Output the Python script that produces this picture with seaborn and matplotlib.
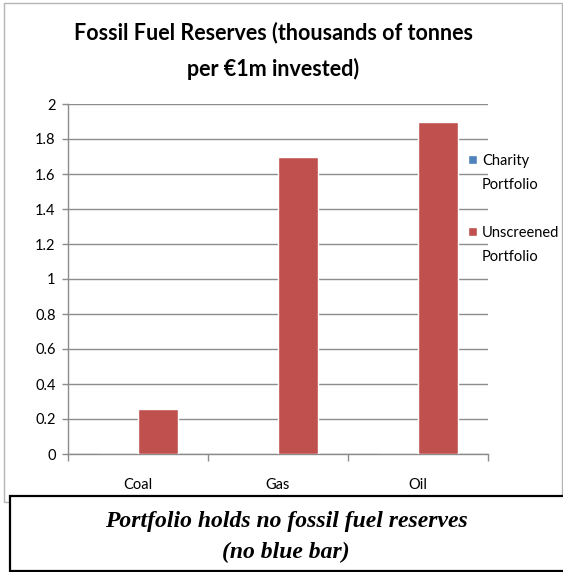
import matplotlib
matplotlib.use("Agg")
import matplotlib.pyplot as plt
import seaborn as sns
import pandas as pd
from matplotlib.patches import Rectangle, Patch

# ---- data ----
categories = ["Coal", "Gas", "Oil"]
series = ["Charity Portfolio", "Unscreened Portfolio"]
charity_values = [0.0, 0.0, 0.0]
unscreened_values = [0.26, 1.7, 1.9]
y_ticks = [0, 0.2, 0.4, 0.6, 0.8, 1, 1.2, 1.4, 1.6, 1.8, 2]
y_tick_labels = ["0", "0.2", "0.4", "0.6", "0.8", "1", "1.2", "1.4", "1.6", "1.8", "2"]
title = "Fossil Fuel Reserves (thousands of tonnes\nper \u20ac1m invested)"
note = "Portfolio holds no fossil fuel reserves\n(no blue bar)"
colors = ["#4F81BD", "#C0504D"]

df = pd.DataFrame({
    "Fuel": categories * 2,
    "Portfolio": [series[0]] * 3 + [series[1]] * 3,
    "Value": charity_values + unscreened_values,
})

sns.set_style("white")
sans = ["Lato", "DejaVu Sans"]
plt.rcParams["font.family"] = sans
for k in ["text.color", "axes.labelcolor", "xtick.color", "ytick.color"]:
    plt.rcParams[k] = "black"

W, H = 563, 572
fig = plt.figure(figsize=(W / 100, H / 100), dpi=100)

ax = fig.add_axes([68 / W, 1 - 454 / H, (488 - 68) / W, (454 - 104) / H])
sns.barplot(data=df, x="Fuel", y="Value", hue="Portfolio", palette=colors,
            width=0.57, saturation=1, errorbar=None, legend=False, ax=ax, zorder=3)

ax.set_xlim(-0.5, 2.5)
ax.set_ylim(0, 2)
ax.set_yticks(y_ticks)
ax.set_yticklabels(y_tick_labels)
ax.set_xlabel("")
ax.set_ylabel("")
ax.yaxis.grid(True, color="#8c8c8c", linewidth=1.0, zorder=0)
ax.set_axisbelow(True)
for s in ["top", "right"]:
    ax.spines[s].set_visible(False)
for s in ["left", "bottom"]:
    ax.spines[s].set_color("#8c8c8c")
    ax.spines[s].set_linewidth(1.0)
ax.tick_params(axis="y", length=4, width=1, color="#8c8c8c", labelcolor="black",
               labelsize=10.5, pad=5, left=True)
ax.tick_params(axis="x", length=0, labelsize=10.5, labelcolor="black", pad=17)
ax.set_xticks([-0.5, 0.5, 1.5, 2.5], minor=True)
ax.tick_params(axis="x", which="minor", length=5, width=1, color="#8c8c8c", bottom=True)

# legend
handles = [Patch(facecolor=colors[0]), Patch(alpha=0), Patch(alpha=0),
           Patch(facecolor=colors[1]), Patch(alpha=0)]
labels = ["Charity", "Portfolio", " ", "Unscreened", "Portfolio"]
leg = ax.legend(handles, labels, loc="upper left", bbox_to_anchor=(468 / W, 1 - 154 / H),
                bbox_transform=fig.transFigure, frameon=False, handlelength=0.6,
                handleheight=0.6, handletextpad=0.35, labelspacing=0.68, borderpad=0,
                borderaxespad=0, fontsize=10.5)
for t in leg.get_texts():
    t.set_color("black")

# title
fig.text(273 / W, 1 - 51 / H, title, ha="center", va="center", fontsize=15.5,
         fontweight="bold", linespacing=1.8, family=sans, color="black")

# outer frame
fig.patches.append(Rectangle((4 / W, 1 - 502 / H), (562 - 4) / W, (502 - 3) / H,
                             transform=fig.transFigure, fill=False,
                             edgecolor="#b4b4b4", linewidth=1.0))
# note box
fig.patches.append(Rectangle((10 / W, 1 - 571 / H), (600 - 10) / W, (571 - 496) / H,
                             transform=fig.transFigure, facecolor="white",
                             edgecolor="black", linewidth=1.6, clip_on=False))
fig.text(286 / W, 1 - 537 / H, note, ha="center", va="center", fontsize=17,
         fontweight="bold", fontstyle="italic", family=["Liberation Serif", "DejaVu Serif"],
         linespacing=1.6, color="black")

fig.savefig("out.png", dpi=100)
